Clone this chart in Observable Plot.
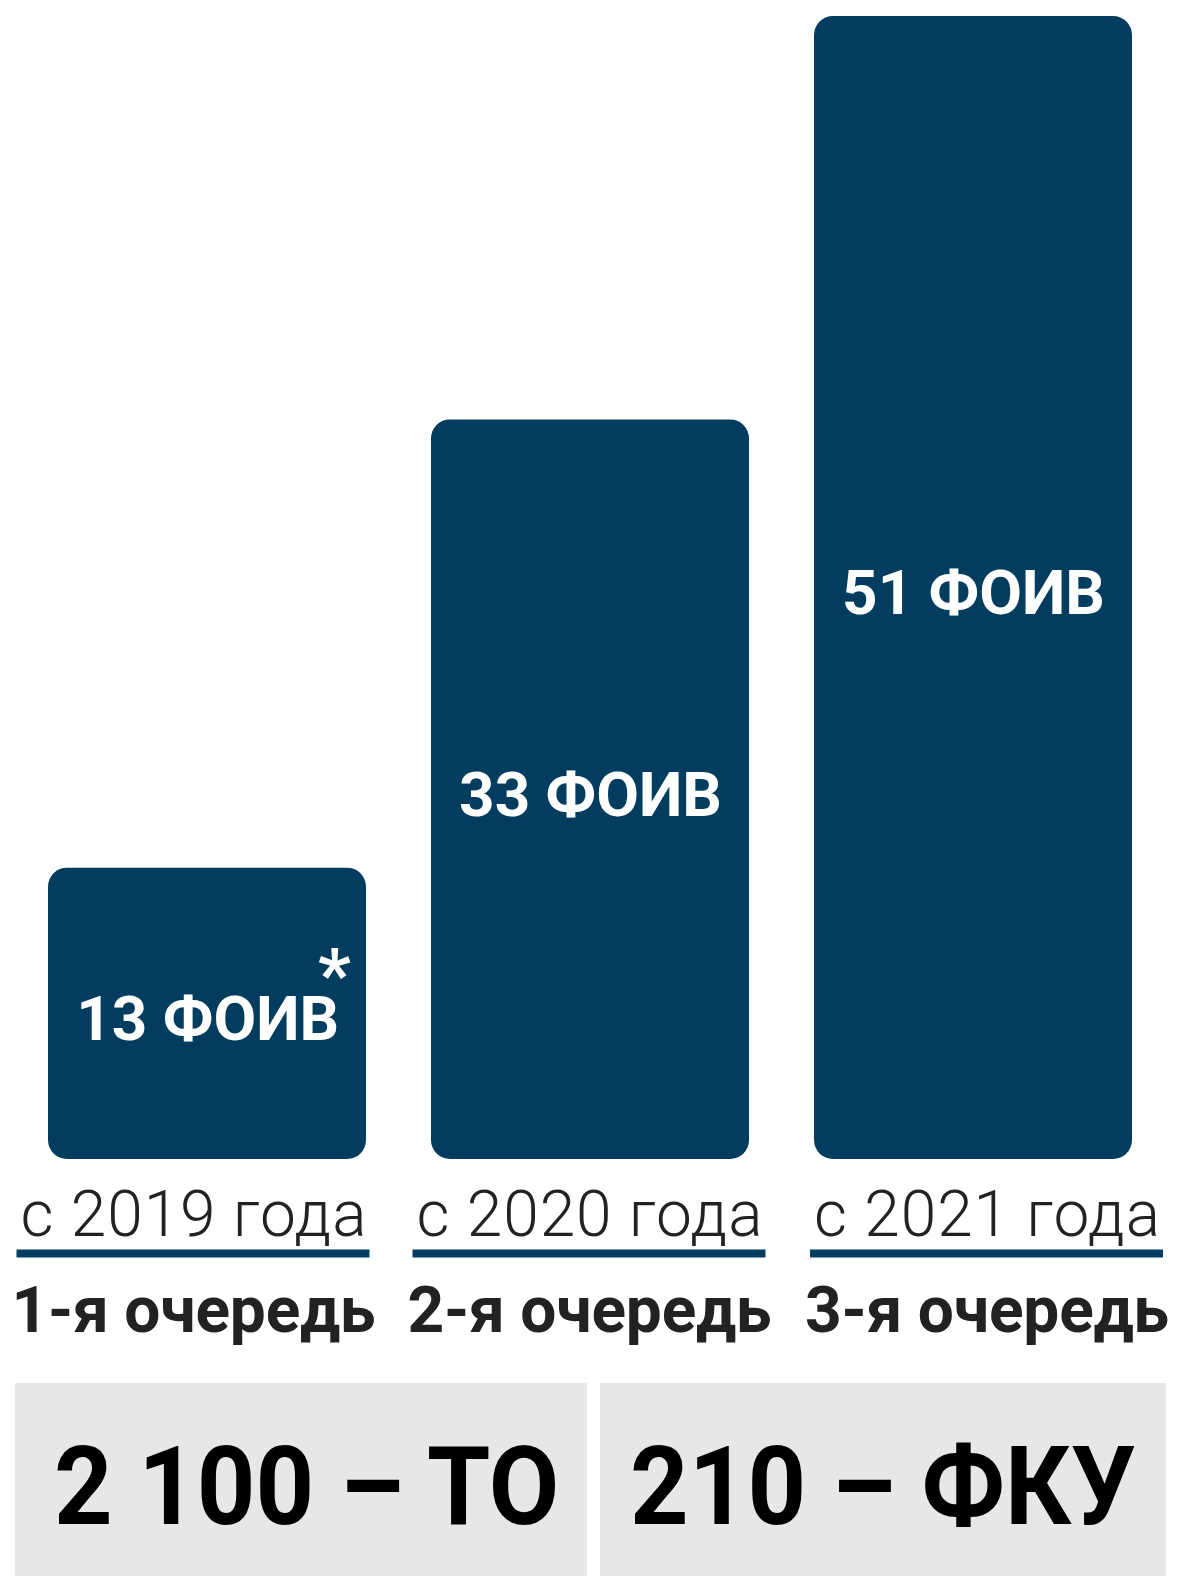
<!DOCTYPE html>
<html>
<head>
<meta charset="utf-8">
<script src="https://cdn.jsdelivr.net/npm/d3@7"></script>
<script src="https://cdn.jsdelivr.net/npm/@observablehq/plot@0.6"></script>
<style>
  html, body { margin: 0; padding: 0; background: #fff; overflow: hidden; }
  #page { position: relative; width: 1180px; height: 1576px; }
  #chart svg { display: block; }
  .box { position: absolute; top: 1383px; height: 193px; background: #e7e7e7;
         display: flex; align-items: center; justify-content: center;
         box-sizing: border-box; padding-top: 14px; }
  .box span { display: inline-block; font-family: Roboto, "DejaVu Sans", sans-serif;
              font-weight: 700; font-size: 110px; color: #000; line-height: normal;
              transform: scaleX(0.93); white-space: nowrap; }
</style>
</head>
<body>
<div id="page">
  <div id="chart"></div>
  <div id="totals"></div>
</div>
<script>
// ---- data ----
const queues = ["1-я очередь", "2-я очередь", "3-я очередь"];
const years = ["с 2019 года", "с 2020 года", "с 2021 года"];
const foiv = [13, 33, 51];
const unit = "ФОИВ";
const notes = ["*", "", ""];
const totals = ["2 100 – ТО", "210 – ФКУ"];

// ---- layout / style ----
const W = 1180, H = 1383;
const navy = "#023c5e";
const shift = [-14, -1, 13.5];

const data = queues.map((q, i) => ({queue: q, year: years[i], value: foiv[i], note: notes[i]}));

const columnMarks = data.flatMap((d, i) => [
  Plot.text([d], {x: "queue", y: () => 0, text: "year", dx: shift[i], dy: 76,
    lineAnchor: "bottom", fontSize: 64, fontWeight: 300, fill: "#222"}),
  Plot.tickY([d], {x: "queue", y: () => 0, dx: shift[i], dy: 94, stroke: navy,
    strokeWidth: 8, insetLeft: -17.5, insetRight: -17.5}),
  Plot.text([d], {x: "queue", y: () => 0, text: "queue", dx: shift[i], dy: 172,
    lineAnchor: "bottom", fontSize: 64, fontWeight: 700, fill: "#222"})
]);

const barLabel = d => `${d.value} ${unit}`;

const chart = Plot.plot({
  width: W,
  height: H,
  marginTop: 16,
  marginBottom: H - 1159,
  marginLeft: 48,
  marginRight: 48,
  style: {fontFamily: "Roboto, 'DejaVu Sans', sans-serif", background: "white"},
  x: {domain: queues, paddingInner: 0.17, paddingOuter: 0, axis: null},
  y: {domain: [0, 51], axis: null},
  marks: [
    Plot.barY(data, {x: "queue", y: "value", fill: navy, rx: 19}),
    Plot.text(data, {x: "queue", y: d => d.value / 2, text: barLabel,
      lineAnchor: "bottom", dy: 26, fill: "white", fontSize: 62, fontWeight: 700}),
    ...columnMarks
  ]
});
document.getElementById("chart").appendChild(chart);

// fit text widths to the reference's wide typeface; attach footnote marks as superscripts
const labelsText = data.map(barLabel);
chart.querySelectorAll("text").forEach(t => {
  const s = t.textContent;
  if (years.includes(s)) { t.setAttribute("textLength", 346); t.setAttribute("lengthAdjust", "spacing"); }
  else if (queues.includes(s)) { t.setAttribute("textLength", 364); t.setAttribute("lengthAdjust", "spacing"); }
  else {
    const i = labelsText.indexOf(s);
    if (i >= 0 && notes[i]) {
      // superscript within the same text run, nudged so the label itself stays centred
      const ts = document.createElementNS("http://www.w3.org/2000/svg", "tspan");
      ts.setAttribute("dx", -21);
      ts.setAttribute("dy", -40);
      ts.setAttribute("font-size", 72);
      ts.textContent = notes[i];
      t.appendChild(ts);
      t.setAttribute("x", 6);
    }
  }
});

// totals boxes below the chart
const boxPos = [{left: 15, width: 572, pad: 12}, {left: 600, width: 566, pad: 0}];
const tot = document.getElementById("totals");
totals.forEach((s, i) => {
  const div = document.createElement("div");
  div.className = "box";
  div.style.left = boxPos[i].left + "px";
  div.style.width = boxPos[i].width + "px";
  div.style.paddingLeft = boxPos[i].pad + "px";
  const span = document.createElement("span");
  span.textContent = s;
  div.appendChild(span);
  tot.appendChild(div);
});
</script>
</body>
</html>
